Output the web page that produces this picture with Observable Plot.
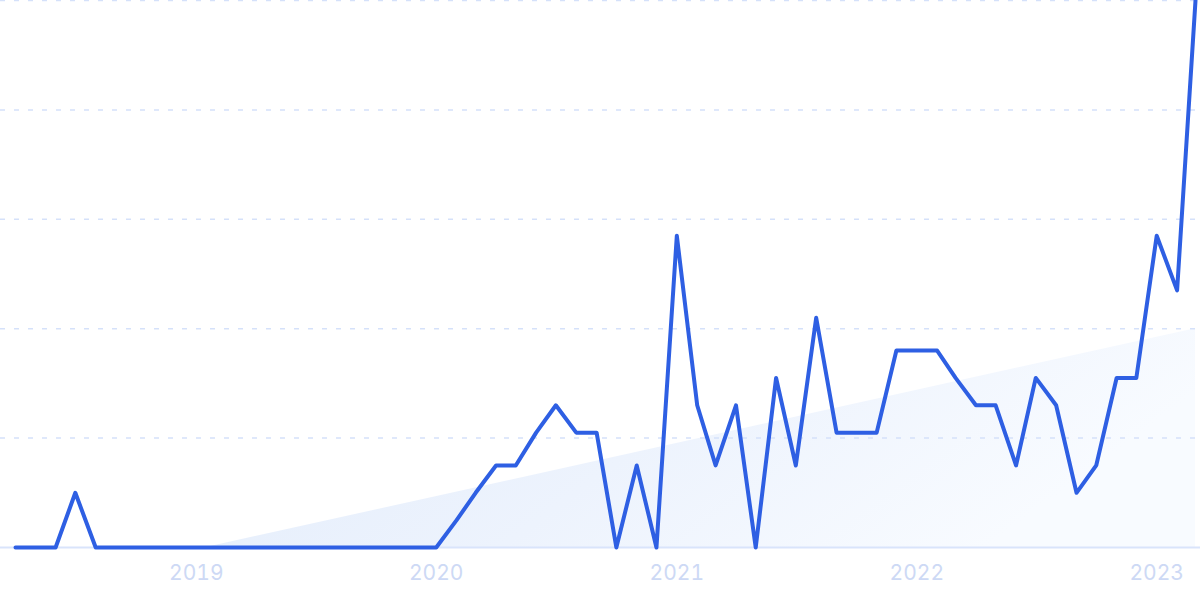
<!DOCTYPE html>
<html>
<head>
<meta charset="utf-8">
<script src="https://cdn.jsdelivr.net/npm/d3@7"></script>
<script src="https://cdn.jsdelivr.net/npm/@observablehq/plot@0.6"></script>
<style>
  html, body { margin: 0; padding: 0; background: #ffffff; }
  #chart { width: 1200px; height: 599px; overflow: hidden; }
</style>
</head>
<body>
<div id="chart"></div>
<script>
// Monthly categories (Apr 2018 – Mar 2023)
const months = [
  "2018-04","2018-05","2018-06","2018-07","2018-08","2018-09","2018-10","2018-11","2018-12",
  "2019-01","2019-02","2019-03","2019-04","2019-05","2019-06","2019-07","2019-08","2019-09","2019-10","2019-11","2019-12",
  "2020-01","2020-02","2020-03","2020-04","2020-05","2020-06","2020-07","2020-08","2020-09","2020-10","2020-11","2020-12",
  "2021-01","2021-02","2021-03","2021-04","2021-05","2021-06","2021-07","2021-08","2021-09","2021-10","2021-11","2021-12",
  "2022-01","2022-02","2022-03","2022-04","2022-05","2022-06","2022-07","2022-08","2022-09","2022-10","2022-11","2022-12",
  "2023-01","2023-02","2023-03"
];
// Series values (relative interest, 0–100)
const values = [
  0, 0, 0, 10, 0, 0, 0, 0, 0,
  0, 0, 0, 0, 0, 0, 0, 0, 0, 0, 0, 0,
  0, 5, 10, 15, 15, 21, 26, 21, 21, 0, 15, 0,
  57, 26, 15, 26, 0, 31, 15, 42, 21, 21, 21, 36,
  36, 36, 31, 26, 26, 15, 31, 26, 10, 15, 31, 31,
  57, 47, 100
];
// Trend band end points
const trendDates = ["2019-01-16", "2023-03-01"];
const trendValues = [0, 40];
// Gridline values and year tick labels
const gridValues = [20, 40, 60, 80, 100];
const yearTicks = ["2019-01-01", "2020-01-01", "2021-01-01", "2022-01-01", "2023-01-01"];

const data = months.map((m, i) => ({date: new Date(m + "-01"), value: values[i]}));
const trend = trendDates.map((d, i) => ({date: new Date(d), value: trendValues[i]}));

const chart = Plot.plot({
  width: 1200,
  height: 599,
  marginLeft: 15,
  marginRight: 5,
  marginTop: 0,
  marginBottom: 52,
  style: {fontFamily: "Inter, 'Noto Sans', sans-serif", background: "#ffffff", overflow: "visible"},
  x: {type: "utc", domain: [new Date("2018-04-01"), new Date("2023-03-01")]},
  y: {domain: [0, 100], axis: null},
  marks: [
    Plot.areaY(trend, {x: "date", y: "value", fill: "url(#trendGrad)"}),
    Plot.ruleY(gridValues, {stroke: "#d5e1fa", strokeWidth: 1.5, strokeDasharray: "5,9", insetLeft: -15, insetRight: -5}),
    Plot.ruleY([0], {stroke: "#d9e4fb", strokeWidth: 2, insetLeft: -15, insetRight: -5}),
    Plot.lineY(data, {x: "date", y: "value", stroke: "#2e5fe3", strokeWidth: 4, strokeLinejoin: "round", strokeLinecap: "round"}),
    Plot.axisX(yearTicks.map(d => new Date(d)), {
      tickSize: 0, tickPadding: 18, tickFormat: d3.utcFormat("%Y"),
      fontSize: 21, fill: "#cdd9f5", label: null
    })
  ]
});

const defs = d3.select(chart).insert("defs", ":first-child");
const grad = defs.append("linearGradient").attr("id", "trendGrad")
  .attr("x1", "0").attr("y1", "0").attr("x2", "1").attr("y2", "0.3");
grad.append("stop").attr("offset", "0%").attr("stop-color", "#e2ecfb");
grad.append("stop").attr("offset", "55%").attr("stop-color", "#edf3fd");
grad.append("stop").attr("offset", "100%").attr("stop-color", "#f8fbff");

document.getElementById("chart").appendChild(chart);
</script>
</body>
</html>
